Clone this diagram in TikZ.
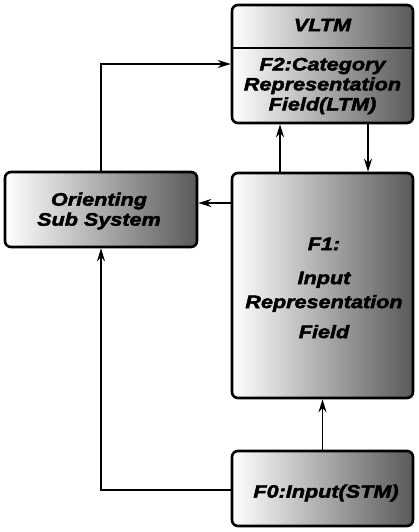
\documentclass[tikz,border=0pt]{standalone}
\usepackage{fontspec}
\setmainfont{Liberation Sans}
\newfontfamily\heavyfont[FakeStretch=1.2, FakeBold=2.5, BoldItalicFont={* Bold Italic}]{Liberation Sans}
\usetikzlibrary{arrows.meta}
\begin{document}
\begin{tikzpicture}[x=1pt,y=-1pt,
  box/.style={draw=black, line width=2.6pt, rounded corners=6pt,
    left color=white, middle color=black!30, right color=black!65, inner sep=0pt},
  lbl/.style={font=\heavyfont\fontsize{18}{20}\selectfont\bfseries\itshape, align=center, text=black},
  conn/.style={line width=1.8pt, -{Stealth[length=13pt,width=8pt]}}]
\useasboundingbox (0,0) rectangle (418,532);
% boxes
\node[box, minimum width=181pt, minimum height=118pt] (f2) at (322.5,64) {};
\node[box, minimum width=192pt, minimum height=75pt] (ori) at (101,209.5) {};
\node[box, minimum width=181pt, minimum height=225pt] (f1) at (322.5,285.5) {};
\node[box, minimum width=181pt, minimum height=75pt] (f0) at (322.5,488.5) {};
\draw[line width=1.8pt] (f2.west |- 0,48) -- (f2.east |- 0,48);
% labels
\node[lbl] (vltm) at (322.5,25) {VLTM};
\node[lbl] (f2t) at (322.5,86) {F2:Category\\Representation\\Field(LTM)};
\node[lbl] (orit) at (99,211) {Orienting\\Sub System};
\node[lbl] (f1t) at (324,288) {F1:\\[14pt]Input\\[4pt]Representation\\[10pt]Field};
\node[lbl] (f0t) at (326,493) {F0:Input(STM)};
% connectors
\draw[conn] (ori.north) |- (f2.west);
\draw[conn] (f2.south -| 368,0) -- (f1.north -| 368,0);
\draw[conn] (f1.north -| 280,0) -- (f2.south -| 280,0);
\draw[conn] (f1.west |- 0,203) -- (ori.east |- 0,203);
\draw[conn] (f0.west |- 0,490) -| (ori.south);
\draw[conn] (f0.north) -- (f1.south);
\end{tikzpicture}
\end{document}
